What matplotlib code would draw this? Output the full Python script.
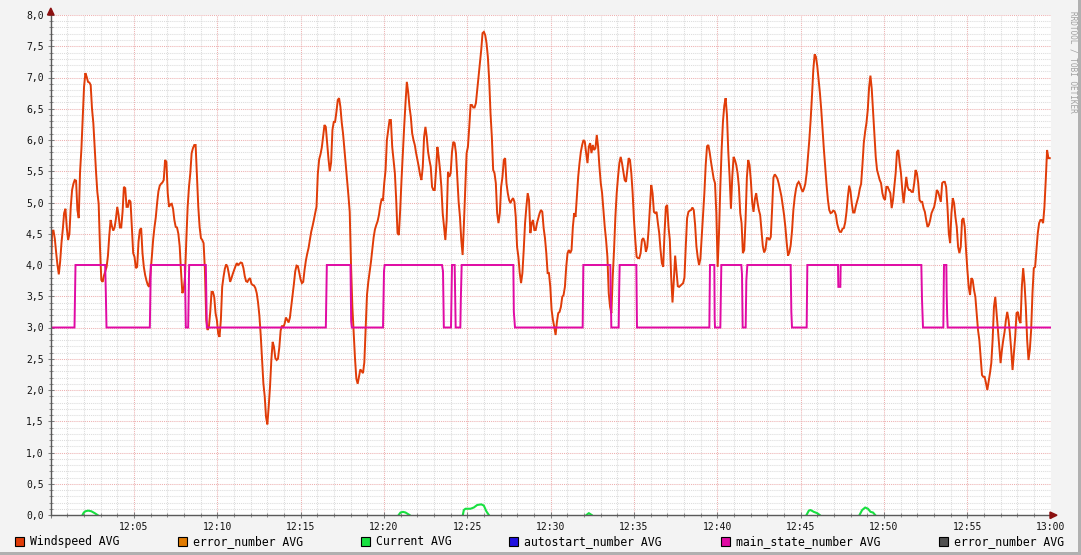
import numpy as np
import matplotlib
matplotlib.use("Agg")
import matplotlib.pyplot as plt
from matplotlib.ticker import MultipleLocator, FuncFormatter
from matplotlib.patches import Rectangle, Polygon

# rrd-style sampling: first sample (minutes after 12:00) and step (minutes)
ws_start = 0.02
ws_step = 0.0797

windspeed = [
    3.87, 4.55, 4.55, 4.42, 4.2, 4.0, 3.85, 4.05, 4.35, 4.57,
    4.83, 4.9, 4.6, 4.4, 4.5, 4.93, 5.2, 5.3, 5.36, 5.35,
    4.88, 4.75, 5.49, 5.85, 6.35, 6.85, 7.07, 7.01, 6.93, 6.92,
    6.88, 6.5, 6.27, 5.89, 5.5, 5.17, 4.98, 4.29, 3.76, 3.73,
    3.83, 3.9, 3.97, 4.15, 4.47, 4.72, 4.62, 4.55, 4.6, 4.74,
    4.93, 4.8, 4.6, 4.6, 4.85, 5.25, 5.23, 4.93, 4.93, 5.04,
    5.01, 4.61, 4.19, 4.13, 3.95, 3.97, 4.37, 4.56, 4.59, 4.19,
    3.97, 3.84, 3.75, 3.68, 3.65, 3.87, 4.12, 4.4, 4.6, 4.76,
    4.99, 5.18, 5.27, 5.3, 5.32, 5.36, 5.68, 5.65, 5.15, 4.93,
    4.97, 4.98, 4.9, 4.72, 4.61, 4.6, 4.5, 4.3, 3.9, 3.55,
    3.6, 3.81, 4.4, 4.93, 5.25, 5.47, 5.79, 5.87, 5.92, 5.92,
    5.41, 4.93, 4.61, 4.43, 4.4, 4.35, 3.92, 3.12, 2.96, 3.01,
    3.25, 3.57, 3.57, 3.49, 3.23,
    3.12, 2.9, 2.85, 3.12, 3.65, 3.81, 3.94, 4.01, 3.97, 3.86,
    3.73, 3.79, 3.86, 3.92, 3.98, 4.03, 4.0, 4.02, 4.04, 4.03,
    3.95, 3.82, 3.74, 3.73, 3.77, 3.79, 3.7, 3.68, 3.67, 3.63,
    3.55, 3.4, 3.19, 2.88, 2.5, 2.11, 1.9, 1.57, 1.45, 1.73,
    2.05, 2.48, 2.77, 2.69, 2.51, 2.48, 2.5, 2.68, 2.95, 3.03,
    3.0, 3.06, 3.16, 3.12, 3.08, 3.16, 3.34, 3.52, 3.7, 3.9,
    3.99, 3.98, 3.88, 3.77, 3.71, 3.73, 3.92, 4.07, 4.18, 4.27,
    4.4, 4.53, 4.62, 4.72, 4.83, 4.93, 5.46, 5.69, 5.77, 5.88,
    6.06, 6.24, 6.21, 5.95, 5.7, 5.5, 5.64, 6.16, 6.29, 6.29,
    6.45, 6.64, 6.67, 6.53, 6.28, 6.1, 5.86, 5.6, 5.36, 5.12,
    4.85, 4.0, 3.33, 2.91, 2.5, 2.18, 2.1, 2.22, 2.33, 2.3,
    2.27, 2.44, 3.0, 3.52, 3.73, 3.89, 4.05, 4.24, 4.44, 4.57,
    4.64, 4.7, 4.8, 4.95, 5.05,
    5.04, 5.31, 5.52, 6.0, 6.16, 6.32, 6.32, 5.89, 5.68, 5.47,
    5.04, 4.51, 4.48, 4.88, 5.36, 5.79, 6.21, 6.59, 6.93, 6.77,
    6.53, 6.37, 6.11, 6.0, 5.92, 5.79, 5.68, 5.57, 5.44, 5.36,
    5.57, 6.05, 6.21, 6.05, 5.81, 5.68, 5.57, 5.25, 5.2, 5.2,
    5.52, 5.89, 5.73, 5.52, 5.25, 4.83, 4.61, 4.4, 4.72, 5.49,
    5.41, 5.47, 5.81, 5.97, 5.95, 5.79, 5.41, 5.01, 4.77, 4.4,
    4.16, 4.67, 5.25, 5.79, 5.89, 6.21, 6.56, 6.56, 6.52, 6.52,
    6.59, 6.8, 7.01, 7.23, 7.44, 7.71, 7.73, 7.68, 7.55, 7.33,
    6.96, 6.43, 6.05, 5.52, 5.47, 5.31, 4.83, 4.67, 4.83, 5.25,
    5.41, 5.68, 5.71, 5.31, 5.15, 5.04, 4.99, 5.04, 5.07, 5.01,
    4.77, 4.29, 4.13, 3.87, 3.71, 3.87, 4.24, 4.67, 4.93, 5.15,
    5.04, 4.51, 4.67, 4.72, 4.56, 4.56, 4.67, 4.75, 4.83, 4.88,
    4.85, 4.59, 4.43, 4.19, 3.87,
    3.87, 3.65, 3.28, 3.12, 3.01, 2.88, 3.09, 3.23, 3.25, 3.33,
    3.49, 3.52, 3.65, 3.97, 4.19, 4.24, 4.19, 4.24, 4.61, 4.83,
    4.77, 5.09, 5.41, 5.63, 5.81, 5.92, 6.0, 5.97, 5.79, 5.63,
    5.89, 5.95, 5.79, 5.92, 5.84, 5.87, 6.08, 5.89, 5.57, 5.31,
    5.15, 4.88, 4.61, 4.4, 4.13, 3.55, 3.33, 3.23, 3.81, 4.24,
    4.77, 5.15, 5.41, 5.63, 5.73, 5.63, 5.49, 5.36, 5.33, 5.52,
    5.71, 5.68, 5.47, 5.15, 4.72, 4.4, 4.13, 4.11, 4.11, 4.19,
    4.4, 4.43, 4.37, 4.21, 4.29, 4.56, 4.93, 5.28, 5.15, 4.85,
    4.83, 4.85, 4.67, 4.51, 4.24, 4.03, 3.97, 4.51, 4.93, 4.96,
    4.61, 4.4, 3.81, 3.4, 3.75, 4.15, 3.9, 3.66, 3.65, 3.67,
    3.69, 3.71, 3.8, 4.3, 4.75, 4.85, 4.87, 4.88, 4.92, 4.88,
    4.65, 4.3, 4.12, 4.0, 4.1, 4.45, 4.8, 5.15, 5.6, 5.9,
    5.92, 5.8, 5.65, 5.52, 5.38,
    5.31, 4.83, 3.97, 4.5, 5.25, 5.85, 6.3, 6.55, 6.67, 6.4,
    5.81, 5.41, 4.9, 5.41, 5.73, 5.68, 5.6, 5.47, 5.25, 4.83,
    4.67, 4.19, 4.24, 4.72, 5.4, 5.68, 5.6, 5.35, 5.0, 4.85,
    5.05, 5.15, 5.0, 4.88, 4.8, 4.55, 4.3, 4.2, 4.25, 4.43,
    4.43, 4.4, 4.45, 4.9, 5.4, 5.45, 5.42, 5.38, 5.3, 5.2,
    5.1, 4.95, 4.8, 4.6, 4.35, 4.15, 4.2, 4.32, 4.55, 4.88,
    5.08, 5.22, 5.3, 5.33, 5.29, 5.22, 5.17, 5.22, 5.3, 5.47,
    5.73, 6.0, 6.32, 6.7, 7.12, 7.37, 7.33, 7.18, 6.96, 6.75,
    6.48, 6.16, 5.84, 5.55, 5.28, 5.04, 4.88, 4.83, 4.84, 4.87,
    4.86, 4.8, 4.66, 4.58, 4.53, 4.53, 4.58, 4.59, 4.68, 4.85,
    5.09, 5.27, 5.18, 4.98, 4.84, 4.84, 4.94, 5.02, 5.1, 5.22,
    5.3, 5.6, 5.95, 6.13, 6.27, 6.48, 6.84, 7.03, 6.82, 6.45,
    6.08, 5.73, 5.52, 5.44, 5.36,
    5.31, 5.15, 5.07, 5.04, 5.25, 5.25, 5.2, 5.15, 4.91, 5.04,
    5.25, 5.47, 5.81, 5.84, 5.63, 5.47, 5.2, 4.99, 5.2, 5.41,
    5.25, 5.2, 5.2, 5.17, 5.17, 5.31, 5.52, 5.47, 5.31, 5.04,
    5.01, 5.01, 4.91, 4.85, 4.72, 4.61, 4.64, 4.72, 4.83, 4.88,
    4.93, 5.04, 5.2, 5.17, 5.09, 5.01, 5.31, 5.33, 5.33, 5.25,
    4.93, 4.51, 4.35, 4.83, 5.07, 4.99, 4.77, 4.61, 4.29, 4.19,
    4.29, 4.72, 4.75, 4.61, 4.24, 3.92, 3.65, 3.52, 3.79, 3.76,
    3.6, 3.49, 3.23, 2.96, 2.8, 2.53, 2.24, 2.21, 2.21, 2.11,
    2.0, 2.13, 2.27, 2.43, 2.8, 3.33, 3.49, 3.23, 2.96, 2.69,
    2.43, 2.64, 2.8, 2.93, 3.12, 3.25, 3.12, 2.91, 2.64, 2.32,
    2.59, 2.85, 3.23, 3.25, 3.12, 3.07, 3.65, 3.95, 3.71, 3.33,
    2.8, 2.48, 2.64, 2.96, 3.55, 3.95, 3.97, 4.24, 4.51, 4.67,
    4.72, 4.72, 4.67, 4.93, 5.36, 5.84, 5.71, 5.71,
]

# main_state_number: corner points (minute, value)
ms_t = [0.0, 1.44, 1.50, 3.28, 3.32, 3.36, 5.96, 6.02, 8.06, 8.12, 8.26, 8.32,
        9.32, 9.38, 16.52, 16.58, 18.00, 18.04, 18.08, 19.95, 20.01, 20.05,
        23.49, 23.55, 23.60, 24.03, 24.09, 24.25, 24.31, 24.59, 24.62, 24.67,
        27.77, 27.80, 27.87, 31.93, 31.97, 33.59, 33.65, 34.09, 34.12, 34.15,
        35.15, 35.19, 39.53, 39.57, 39.83, 39.85, 39.87, 40.19, 40.25,
        41.45, 41.49, 41.53, 41.71, 41.75, 41.81, 44.41, 44.45, 44.49,
        45.37, 45.41, 47.25, 47.27, 47.39, 47.41, 52.25, 52.29, 52.35,
        53.57, 53.59, 53.61, 53.75, 53.77, 53.80, 53.83, 60.0]
ms_v = [3.0, 3.0, 4.0, 4.0, 3.55, 3.0, 3.0, 4.0, 4.0, 3.0, 3.0, 4.0,
        4.0, 3.0, 3.0, 4.0, 4.0, 3.1, 3.0, 3.0, 3.9, 4.0,
        4.0, 3.9, 3.0, 3.0, 4.0, 4.0, 3.0, 3.0, 3.45, 4.0,
        4.0, 3.25, 3.0, 3.0, 4.0, 4.0, 3.0, 3.0, 3.6, 4.0,
        4.0, 3.0, 3.0, 4.0, 4.0, 3.15, 3.0, 3.0, 4.0,
        4.0, 3.85, 3.0, 3.0, 3.75, 4.0, 4.0, 3.25, 3.0,
        3.0, 4.0, 4.0, 3.65, 3.65, 4.0, 4.0, 3.45, 3.0,
        3.0, 3.55, 4.0, 4.0, 3.55, 3.2, 3.0, 3.0]

# Current: corner points (minute, value)
cur_t = [0.0, 1.92, 2.0, 2.1, 2.26, 2.45, 2.65, 2.82,
         20.89, 21.0, 21.15, 21.3, 21.54,
         24.74, 24.8, 24.9, 25.2, 25.4, 25.6, 25.85, 26.0, 26.15, 26.3,
         32.16, 32.3, 32.47,
         45.36, 45.5, 45.6, 45.8, 46.0, 46.15,
         48.54, 48.7, 48.88, 49.05, 49.2, 49.35, 49.48, 60.0]
cur_v = [0, 0, 0.04, 0.06, 0.07, 0.06, 0.03, 0,
         0, 0.04, 0.05, 0.04, 0,
         0, 0.08, 0.1, 0.1, 0.12, 0.16, 0.17, 0.15, 0.06, 0,
         0, 0.03, 0,
         0, 0.07, 0.08, 0.05, 0.03, 0,
         0, 0.08, 0.12, 0.1, 0.05, 0.04, 0, 0]

legend_names = ["Windspeed AVG", "error_number AVG", "Current AVG",
                "autostart_number AVG", "main_state_number AVG", "error_number AVG"]
legend_colors = ["#E03C08", "#E07A00", "#18E040", "#2010E0", "#E00AA4", "#505050"]

W, H = 1081, 555
MONO = "DejaVu Sans Mono"
fig = plt.figure(figsize=(W / 100, H / 100), dpi=100)
fig.patch.set_facecolor("#F3F3F3")

def px(x, y):
    return (x / W, 1 - y / H)

ax = fig.add_axes([50.5 / W, (H - 515) / H, 1000 / W, 500 / H])
ax.set_facecolor("white")

ws_t = ws_start + ws_step * np.arange(len(windspeed))
ax.plot(ws_t, windspeed, color=legend_colors[0], lw=1.4, zorder=3,
        solid_joinstyle="miter")

# the flat zero stretches of Current sit under the x axis: break the line there
gx, gy = [], []
for i in range(len(cur_t)):
    if i > 0 and cur_v[i] == 0 and cur_v[i - 1] == 0:
        gx.append(np.nan)
        gy.append(np.nan)
    gx.append(cur_t[i])
    gy.append(cur_v[i])
ax.plot(gx, gy, color=legend_colors[2], lw=1.5, zorder=4)

ax.plot(ms_t, ms_v, color=legend_colors[4], lw=1.4, zorder=5,
        solid_joinstyle="miter")

ax.set_xlim(0, 60)
ax.set_ylim(0, 8)
ax.xaxis.set_major_locator(MultipleLocator(5))
ax.xaxis.set_minor_locator(MultipleLocator(1))
ax.yaxis.set_major_locator(MultipleLocator(0.5))
ax.yaxis.set_minor_locator(MultipleLocator(0.1))

def fmt_x(v, pos):
    m = int(round(v))
    if m <= 0:
        return ""
    return "%d:%02d" % (12 + m // 60, m % 60)

ax.xaxis.set_major_formatter(FuncFormatter(fmt_x))
ax.yaxis.set_major_formatter(FuncFormatter(lambda v, p: ("%.1f" % v).replace(".", ",")))

ax.grid(which="minor", color="#DCDCDC", linestyle=(0, (1, 1)), lw=0.75, zorder=1)
ax.grid(which="major", color="#EDB0B0", linestyle=(0, (1, 1)), lw=0.75, zorder=1)
ax.set_axisbelow(True)

for s in ["top", "right"]:
    ax.spines[s].set_visible(False)
for s in ["left", "bottom"]:
    ax.spines[s].set_color("#5A5A5A")
    ax.spines[s].set_linewidth(1.0)
    ax.spines[s].set_zorder(6)

ax.tick_params(which="major", direction="inout", length=4, width=0.75, color="#808080",
               labelsize=7, labelcolor="#111111", pad=3)
ax.tick_params(which="minor", direction="inout", length=2.5, width=0.75, color="#909090")
for lab in ax.get_xticklabels() + ax.get_yticklabels():
    lab.set_fontfamily(MONO)

# axis arrows
fig.patches.append(Polygon([px(47.5, 15), px(54, 15), px(50.8, 8)], closed=True,
                           transform=fig.transFigure, color="#8B1010", zorder=10))
fig.patches.append(Polygon([px(1050, 512), px(1050, 518.5), px(1057, 515.2)], closed=True,
                           transform=fig.transFigure, color="#8B1010", zorder=10))

# legend
legend_x = [15, 178, 361, 509, 721, 939]
for lx, name, col in zip(legend_x, legend_names, legend_colors):
    x0, y0 = px(lx, 546)
    fig.patches.append(Rectangle((x0, y0), 9 / W, 9 / H, transform=fig.transFigure,
                                 facecolor=col, edgecolor="black", lw=0.8))
    tx, ty = px(lx + 15, 541.5)
    fig.text(tx, ty, name, fontsize=8.3, family=MONO, color="black", ha="left", va="center")

# watermark
wx, wy = px(1073, 62)
fig.text(wx, wy, "RRDTOOL / TOBI OETIKER", rotation=270, fontsize=5.6, family=MONO,
         color="#A0A0A0", ha="center", va="center")

# canvas shading border
fig.patches.append(Rectangle(px(1078, 555), 3 / W, 1, transform=fig.transFigure,
                             facecolor="#B0B0B0", edgecolor="none"))
fig.patches.append(Rectangle(px(0, 555), 1, 3 / H, transform=fig.transFigure,
                             facecolor="#B0B0B0", edgecolor="none"))

fig.savefig("out.png", dpi=100, facecolor=fig.get_facecolor())
